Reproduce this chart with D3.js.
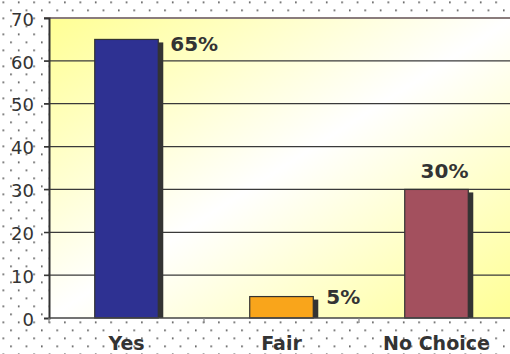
<!DOCTYPE html>
<html>
<head>
<meta charset="utf-8">
<script src="https://cdn.jsdelivr.net/npm/d3@7/dist/d3.min.js"></script>
<style>
  html, body { margin: 0; padding: 0; background: #fff; }
  svg { display: block; }
  text { font-family: "DejaVu Sans", Verdana, sans-serif; fill: #333; }
</style>
</head>
<body>
<svg id="chart" width="510" height="354"></svg>
<script>
// Survey answers and their shares (percent)
const categories = ["Yes", "Fair", "No Choice"];
const values = [65, 5, 30];
const valueLabels = ["65%", "5%", "30%"];
const barColors = ["#2e3192", "#f9a51b", "#a3505e"];
const yTicks = [0, 10, 20, 30, 40, 50, 60, 70];

const W = 510, H = 354;
const margin = { top: 18, right: -4, bottom: 36, left: 49 };
const plotW = W - margin.left - margin.right;
const plotH = H - margin.top - margin.bottom;

const svg = d3.select("#chart");
const defs = svg.append("defs");

// Dotted backdrop
const pat = defs.append("pattern")
  .attr("id", "dots").attr("patternUnits", "userSpaceOnUse")
  .attr("width", 15.4).attr("height", 16).attr("x", 2.5).attr("y", 1.5);
pat.append("rect").attr("x", 0).attr("y", 0).attr("width", 1.6).attr("height", 1.6).attr("fill", "#444");
pat.append("rect").attr("x", 7.7).attr("y", 8).attr("width", 1.6).attr("height", 1.6).attr("fill", "#444");

svg.append("rect").attr("width", W).attr("height", H).attr("fill", "#fff");
svg.append("rect").attr("width", W).attr("height", H).attr("fill", "url(#dots)");

// Plot area fill: yellow corners fading to white across the diagonal
const grad = defs.append("linearGradient")
  .attr("id", "plotFill").attr("x1", 0).attr("y1", 0).attr("x2", 1).attr("y2", 1);
grad.append("stop").attr("offset", "0%").attr("stop-color", "#ffff94");
grad.append("stop").attr("offset", "50%").attr("stop-color", "#ffffff");
grad.append("stop").attr("offset", "100%").attr("stop-color", "#ffff94");

const g = svg.append("g").attr("transform", `translate(${margin.left},${margin.top})`);

g.append("rect").attr("width", plotW).attr("height", plotH).attr("fill", "url(#plotFill)");

const x = d3.scaleBand().domain(categories).range([0, plotW])
  .paddingInner(0.59).paddingOuter(0.295);
const y = d3.scaleLinear().domain([0, 70]).range([plotH, 0]);

// Horizontal gridlines
g.append("g").selectAll("line")
  .data(yTicks.filter(t => t > 0 && t < 70))
  .join("line")
  .attr("x1", -5).attr("x2", plotW)
  .attr("y1", d => y(d)).attr("y2", d => y(d))
  .attr("stroke", "#3a3a3a").attr("stroke-width", 1.2);

// Top border of the plot
g.append("line").attr("x1", -5).attr("x2", plotW).attr("y1", y(70)).attr("y2", y(70))
  .attr("stroke", "#8a7c7c").attr("stroke-width", 2);

// Y axis
const yAxis = g.append("g")
  .call(d3.axisLeft(y).tickValues(yTicks).tickSize(5).tickPadding(10).tickFormat(d3.format("d")));
yAxis.select(".domain").attr("stroke", "#333").attr("stroke-width", 2);
yAxis.selectAll(".tick line").attr("stroke", "#333");
yAxis.selectAll(".tick text")
  .attr("font-size", 18).attr("dy", "0.4em").attr("fill", "#333")
  .style("font-family", "'DejaVu Sans', Verdana, sans-serif");

// Bar shadows
const bars = categories.map((c, i) => ({ c, v: values[i], label: valueLabels[i], color: barColors[i] }));
g.append("g").selectAll("rect")
  .data(bars).join("rect")
  .attr("x", d => x(d.c) + 5).attr("y", d => y(d.v) + 3)
  .attr("width", x.bandwidth()).attr("height", d => y(0) - y(d.v) - 3)
  .attr("fill", "#333");

// Bars
g.append("g").selectAll("rect")
  .data(bars).join("rect")
  .attr("x", d => x(d.c)).attr("y", d => y(d.v))
  .attr("width", x.bandwidth()).attr("height", d => y(0) - y(d.v))
  .attr("fill", d => d.color).attr("stroke", "#333").attr("stroke-width", 1.2);

// X axis line and category separators
g.append("line").attr("x1", 0).attr("x2", plotW).attr("y1", plotH).attr("y2", plotH)
  .attr("stroke", "#444").attr("stroke-width", 1.5);
const step = x.step();
g.append("g").selectAll("line")
  .data(d3.range(categories.length))
  .join("line")
  .attr("x1", i => i * step).attr("x2", i => i * step)
  .attr("y1", plotH).attr("y2", plotH + 5)
  .attr("stroke", "#888").attr("stroke-width", 1.2);

// Category labels
g.append("g").selectAll("text")
  .data(categories).join("text")
  .attr("x", d => x(d) + x.bandwidth() / 2)
  .attr("y", plotH + 32)
  .attr("text-anchor", "middle")
  .attr("font-size", 19).attr("font-weight", "bold")
  .text(d => d);

// Value labels: beside the bar when there is room, above it otherwise
const labelPlacement = [
  { anchor: "start", dx: d => x(d.c) + x.bandwidth() + 12, dy: d => y(d.v) + 11.5 },
  { anchor: "start", dx: d => x(d.c) + x.bandwidth() + 13, dy: d => y(d.v) + 7.5 },
  { anchor: "middle", dx: d => x(d.c) + x.bandwidth() / 2 + 8, dy: d => y(d.v) - 11.7 }
];
g.append("g").selectAll("text")
  .data(bars).join("text")
  .attr("x", (d, i) => labelPlacement[i].dx(d))
  .attr("y", (d, i) => labelPlacement[i].dy(d))
  .attr("text-anchor", (d, i) => labelPlacement[i].anchor)
  .attr("font-size", 20).attr("font-weight", "bold")
  .text(d => d.label);
</script>
</body>
</html>
